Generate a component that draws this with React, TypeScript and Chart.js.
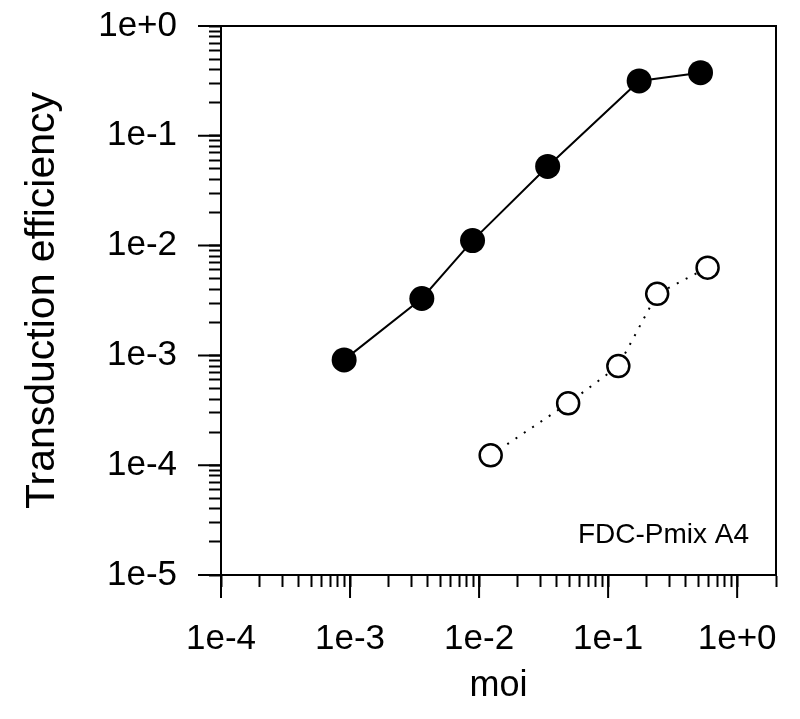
import React, { useEffect, useRef } from "react";
import { Chart, registerables } from "chart.js";

Chart.register(...registerables);

// ---- data ----
const xDecades = [1e-4, 1e-3, 1e-2, 1e-1, 1];
const xTickLabels = ["1e-4", "1e-3", "1e-2", "1e-1", "1e+0"];
const yDecades = [1e-5, 1e-4, 1e-3, 1e-2, 1e-1, 1];
const yTickLabels = ["1e-5", "1e-4", "1e-3", "1e-2", "1e-1", "1e+0"];
const minorMultipliers = [2, 3, 4, 5, 6, 7, 8, 9];

const filledMoi = [9.0e-4, 3.6e-3, 8.9e-3, 0.034, 0.174, 0.52];
const filledEff = [9.1e-4, 3.3e-3, 0.0111, 0.0526, 0.316, 0.376];
const openMoi = [0.0123, 0.049, 0.12, 0.24, 0.59];
const openEff = [1.23e-4, 3.66e-4, 8.0e-4, 3.64e-3, 6.3e-3];

const xTitle = "moi";
const yTitle = "Transduction efficiency";
const annotationText = "FDC-Pmix A4";

const FONT = "'Liberation Sans', Arial, Helvetica, sans-serif";

function buildTicks(decades: number[], max: number) {
  const vals: number[] = [];
  decades.forEach((d) => {
    vals.push(d);
    minorMultipliers.forEach((m) => {
      const v = d * m;
      if (d < max) vals.push(v);
    });
  });
  return vals.filter((v) => v <= max * 1.000001).map((v) => ({ value: v }));
}

function labelFor(value: number, decades: number[], labels: string[]) {
  const i = decades.findIndex(
    (d) => Math.abs(Math.log10(value) - Math.log10(d)) < 1e-6
  );
  return i >= 0 ? labels[i] : "";
}

const framePlugin = {
  id: "frameAndMajors",
  afterDraw(chart: any) {
    const { ctx, chartArea, scales } = chart;
    const { left, top, right, bottom } = chartArea;
    ctx.save();
    ctx.strokeStyle = "#000";
    ctx.lineWidth = 2;
    ctx.strokeRect(left, top, right - left, bottom - top);
    ctx.beginPath();
    xDecades.forEach((d) => {
      const px = scales.x.getPixelForValue(d);
      ctx.moveTo(px, bottom);
      ctx.lineTo(px, bottom + 23);
    });
    yDecades.forEach((d) => {
      const py = scales.y.getPixelForValue(d);
      ctx.moveTo(left - 23, py);
      ctx.lineTo(left, py);
    });
    ctx.stroke();
    ctx.fillStyle = "#000";
    ctx.font = `28px ${FONT}`;
    ctx.textAlign = "right";
    ctx.textBaseline = "alphabetic";
    ctx.fillText(annotationText, right - 27, bottom - 32);
    ctx.restore();
  },
};

export default function App() {
  const ref = useRef<HTMLCanvasElement | null>(null);
  useEffect(() => {
    if (!ref.current) return;
    const chart = new Chart(ref.current, {
      type: "line",
      data: {
        datasets: [
          {
            label: "filled",
            data: filledMoi.map((x, i) => ({ x, y: filledEff[i] })),
            borderColor: "#000",
            borderWidth: 2,
            pointRadius: 12.5,
            pointBackgroundColor: "#000",
            pointBorderColor: "#000",
            pointBorderWidth: 0,
            tension: 0,
          },
          {
            label: "open",
            data: openMoi.map((x, i) => ({ x, y: openEff[i] })),
            borderColor: "#000",
            borderWidth: 2,
            borderDash: [2, 8],
            pointRadius: 11,
            pointBackgroundColor: "#fff",
            pointBorderColor: "#000",
            pointBorderWidth: 2.5,
            tension: 0,
          },
        ],
      },
      options: {
        responsive: false,
        animation: false,
        devicePixelRatio: 1,
        layout: { padding: { top: 26, right: 24, left: 0, bottom: 0 } },
        plugins: {
          legend: { display: false },
          tooltip: { enabled: false },
        },
        scales: {
          x: {
            type: "logarithmic",
            position: "bottom",
            min: 1e-4,
            max: 2,
            afterBuildTicks: (s: any) => {
              s.ticks = buildTicks(xDecades, 2);
            },
            afterFit: (s: any) => {
              s.height = 144;
              s.paddingLeft = 0;
              s.paddingRight = 0;
              s.paddingTop = 0;
              s.paddingBottom = 0;
            },
            ticks: {
              autoSkip: false,
              maxRotation: 0,
              minRotation: 0,
              padding: 31,
              color: "#000",
              font: { family: FONT, size: 35 },
              callback: (v: any) => labelFor(Number(v), xDecades, xTickLabels),
            },
            grid: {
              drawOnChartArea: false,
              drawTicks: true,
              tickLength: 12,
              tickWidth: 2,
              tickColor: "#000",
            },
            border: { display: true, color: "#000", width: 2 },
            title: {
              display: true,
              text: xTitle,
              color: "#000",
              font: { family: FONT, size: 36 },
              padding: { top: 0, bottom: 11 },
            },
          },
          y: {
            type: "logarithmic",
            position: "left",
            min: 1e-5,
            max: 1,
            afterBuildTicks: (s: any) => {
              s.ticks = buildTicks(yDecades, 1);
            },
            afterFit: (s: any) => {
              s.width = 221;
              s.paddingLeft = 0;
              s.paddingRight = 0;
              s.paddingTop = 0;
              s.paddingBottom = 0;
            },
            ticks: {
              autoSkip: false,
              padding: 32,
              color: "#000",
              font: { family: FONT, size: 35 },
              callback: (v: any) => labelFor(Number(v), yDecades, yTickLabels),
            },
            grid: {
              drawOnChartArea: false,
              drawTicks: true,
              tickLength: 12,
              tickWidth: 2,
              tickColor: "#000",
            },
            border: { display: true, color: "#000", width: 2 },
            title: {
              display: true,
              text: yTitle,
              color: "#000",
              font: { family: FONT, size: 41 },
              padding: { top: 18, bottom: 0 },
            },
          },
        },
      },
      plugins: [framePlugin],
    } as any);
    return () => chart.destroy();
  }, []);
  return (
    <div
      style={{
        position: "fixed",
        left: 0,
        top: 0,
        width: 800,
        height: 719,
        background: "#fff",
      }}
    >
      <canvas ref={ref} width={800} height={719} />
    </div>
  );
}
